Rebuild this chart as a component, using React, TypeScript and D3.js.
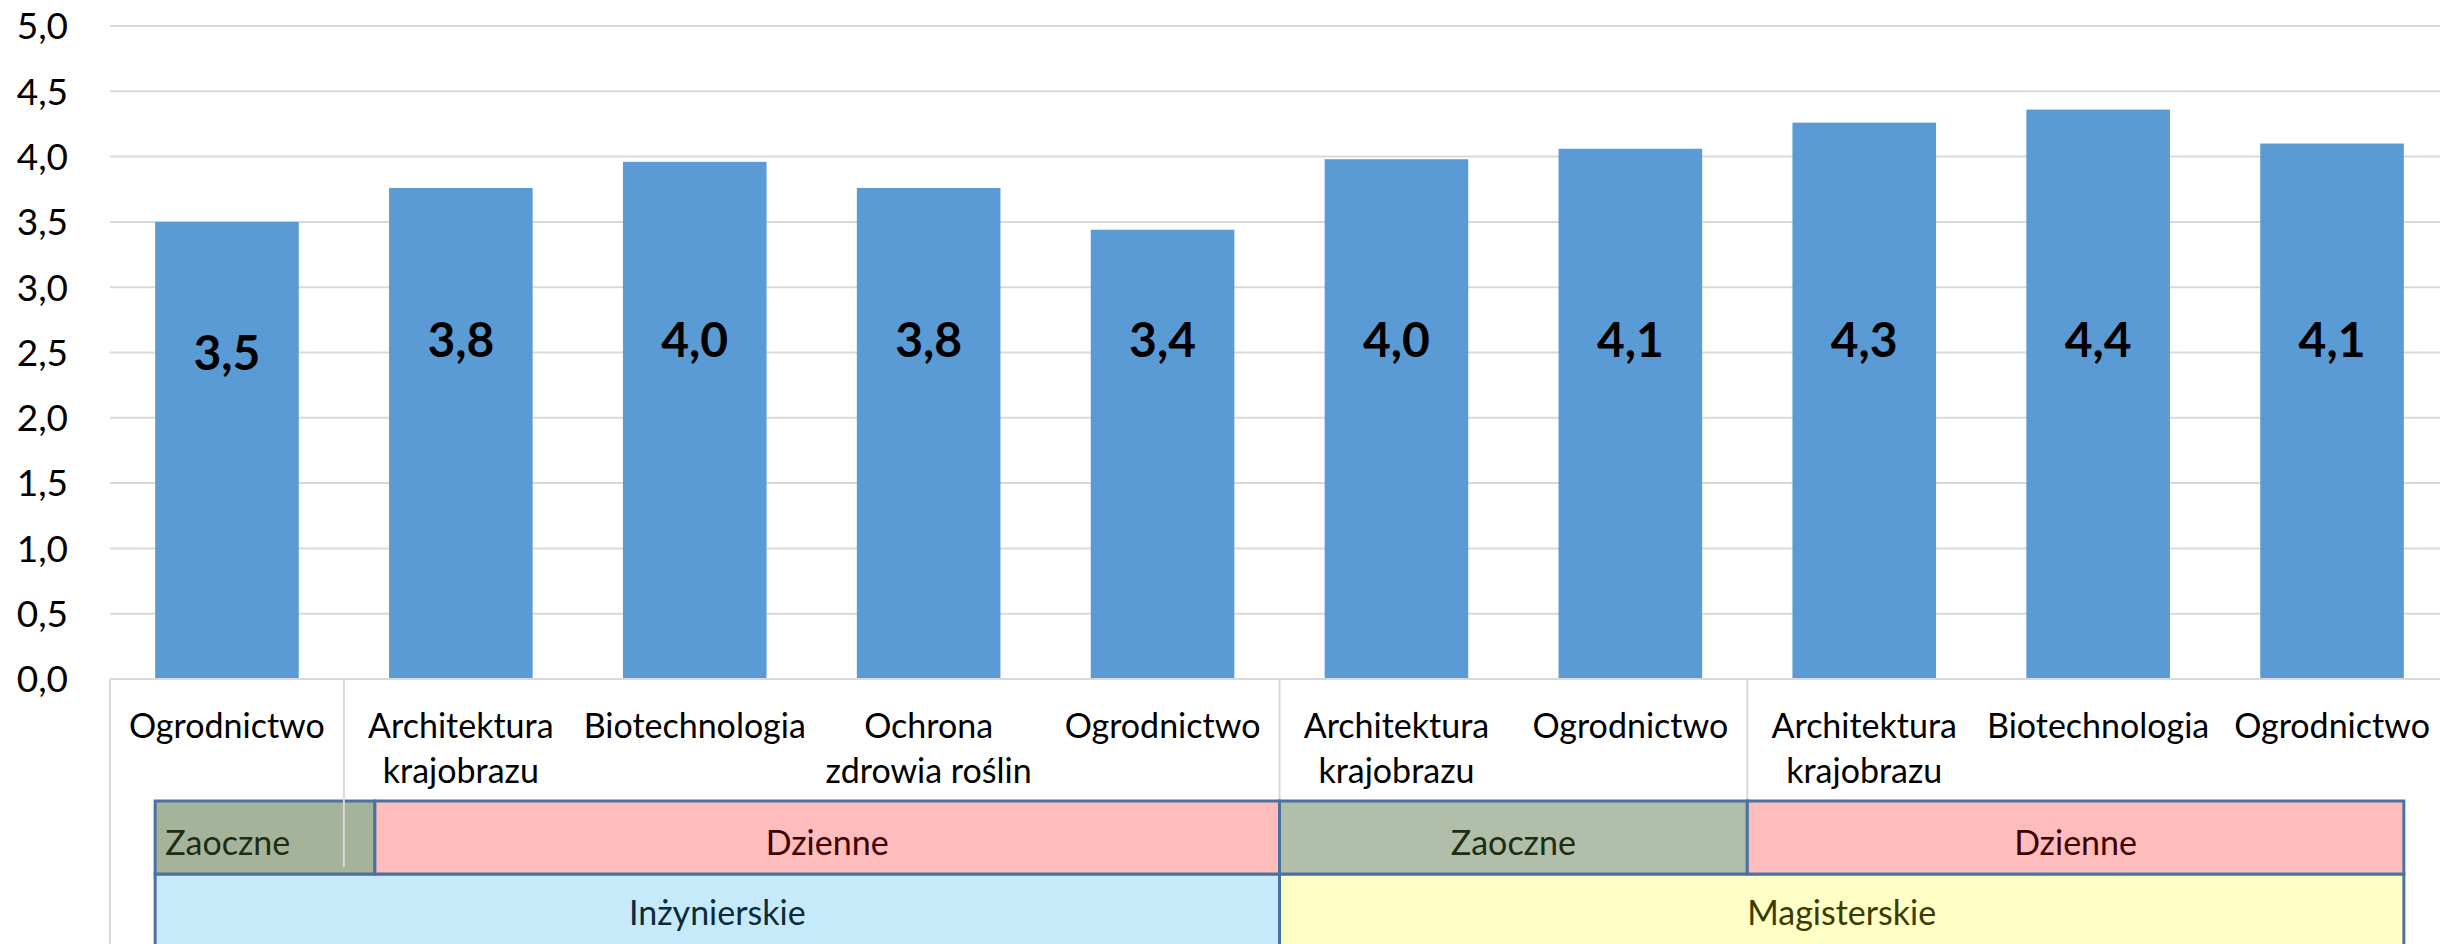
import React, { useEffect, useRef } from "react";
import * as d3 from "d3";

// mean grades per field of study, split by study mode and degree
const categories = [
  "Ogrodnictwo",
  "Architektura\nkrajobrazu",
  "Biotechnologia",
  "Ochrona\nzdrowia roślin",
  "Ogrodnictwo",
  "Architektura\nkrajobrazu",
  "Ogrodnictwo",
  "Architektura\nkrajobrazu",
  "Biotechnologia",
  "Ogrodnictwo",
];
const values = [3.5, 3.76, 3.96, 3.76, 3.44, 3.98, 4.06, 4.26, 4.36, 4.1];
const yTicks = [0, 0.5, 1, 1.5, 2, 2.5, 3, 3.5, 4, 4.5, 5];

// second level (study mode), in category columns
const modeGroups = [
  { label: "Zaoczne", from: 0, to: 1 },
  { label: "Dzienne", from: 1, to: 5 },
  { label: "Zaoczne", from: 5, to: 7 },
  { label: "Dzienne", from: 7, to: 10 },
];
// third level (degree)
const degreeGroups = [
  { label: "Inżynierskie", from: 0, to: 5 },
  { label: "Magisterskie", from: 5, to: 10 },
];

const modeFill = ["#a6b39b", "#febcbc", "#b1bea9", "#febcbc"];
const modeText = ["#1f2d12", "#3f0000", "#1f2d12", "#3f0000"];
const degreeFill = ["#c6eafa", "#ffffc6"];
const degreeText = ["#0b2a3a", "#3b3b00"];

const FONT = "Lato, Carlito, Calibri, sans-serif";

const App = () => {
  const ref = useRef<SVGSVGElement>(null);

  useEffect(() => {
    const width = 2440;
    const height = 944;
    const left = 110;
    const plotRight = 2449; // plot area runs a bit past the picture's edge
    const top = 26;
    const bottom = 679;

    const svg = d3.select(ref.current);
    svg.selectAll("*").remove();
    svg.attr("width", width).attr("height", height);

    const x = d3
      .scaleBand<number>()
      .domain(d3.range(values.length))
      .range([left, plotRight])
      .paddingInner(0.386)
      .paddingOuter(0.193);
    const y = d3.scaleLinear().domain([0, 5]).range([bottom, top]);

    const step = x.step();
    const bw = x.bandwidth();
    const n = values.length;
    // column units -> pixels, outer edges snap to the bars
    const pos = (u: number) =>
      u <= 0 ? x(0)! : u >= n ? x(n - 1)! + bw : left + u * step;

    // gridlines
    svg
      .append("g")
      .selectAll("line")
      .data(yTicks)
      .join("line")
      .attr("x1", left)
      .attr("x2", width)
      .attr("y1", (d) => y(d))
      .attr("y2", (d) => y(d))
      .attr("stroke", "#d9d9d9")
      .attr("stroke-width", 2);

    // y labels
    svg
      .append("g")
      .selectAll("text")
      .data(yTicks)
      .join("text")
      .attr("x", 68)
      .attr("y", (d) => y(d))
      .attr("dy", "0.36em")
      .attr("text-anchor", "end")
      .style("font-family", FONT)
      .style("font-size", "37px")
      .attr("fill", "#000")
      .text((d) => d.toFixed(1).replace(".", ","));

    // bars
    svg
      .append("g")
      .selectAll("rect")
      .data(values)
      .join("rect")
      .attr("x", (d, i) => x(i)!)
      .attr("width", bw)
      .attr("y", (d) => y(d))
      .attr("height", (d) => y(0) - y(d))
      .attr("fill", "#5b9bd5");

    // value labels (placed by hand in the original, roughly level)
    svg
      .append("g")
      .selectAll("text")
      .data(values)
      .join("text")
      .attr("x", (d, i) => x(i)! + bw / 2)
      .attr("y", (d, i) => (i === 0 ? y(2.5) : y(2.6)))
      .attr("dy", "0.36em")
      .attr("text-anchor", "middle")
      .style("font-family", FONT)
      .style("font-size", "48px")
      .style("font-weight", "bold")
      .attr("fill", "#000")
      .text((d) => d.toFixed(1).replace(".", ","));

    // axis lines
    svg
      .append("line")
      .attr("x1", left)
      .attr("x2", width)
      .attr("y1", bottom)
      .attr("y2", bottom)
      .attr("stroke", "#d9d9d9")
      .attr("stroke-width", 2);
    svg
      .append("line")
      .attr("x1", left)
      .attr("x2", left)
      .attr("y1", bottom)
      .attr("y2", height)
      .attr("stroke", "#d9d9d9")
      .attr("stroke-width", 2);

    // category labels
    const cat = svg
      .append("g")
      .selectAll("text")
      .data(categories)
      .join("text")
      .attr("text-anchor", "middle")
      .style("font-family", FONT)
      .style("font-size", "34px")
      .attr("fill", "#000");
    cat.each(function (d, i) {
      const t = d3.select(this);
      d.split("\n").forEach((line, k) => {
        t.append("tspan")
          .attr("x", x(i)! + bw / 2)
          .attr("y", 738 + k * 45)
          .text(line);
      });
    });

    const rowTop = 801;
    const rowMid = 874;
    const firstShift = 31; // first hand drawn box overshoots its column

    const modeX0 = (g: any, i: number) => (i === 1 ? pos(g.from) + firstShift : pos(g.from));
    const modeX1 = (g: any, i: number) => (i === 0 ? pos(g.to) + firstShift : pos(g.to));

    // separators between mode groups
    modeGroups.slice(1).forEach((g, k) => {
      const sx = pos(g.from);
      const edge = modeX0(g, k + 1);
      svg
        .append("line")
        .attr("x1", sx)
        .attr("x2", sx)
        .attr("y1", bottom)
        .attr("y2", Math.abs(edge - sx) < 5 ? rowTop : 867)
        .attr("stroke", "#d9d9d9")
        .attr("stroke-width", 2)
        .attr("class", Math.abs(edge - sx) < 5 ? "under" : "over");
    });

    // degree row
    degreeGroups.forEach((g, i) => {
      const x0 = pos(g.from);
      const x1 = pos(g.to);
      svg
        .append("rect")
        .attr("x", x0)
        .attr("y", rowMid)
        .attr("width", x1 - x0)
        .attr("height", 100)
        .attr("fill", degreeFill[i])
        .attr("stroke", "#4a72a0")
        .attr("stroke-width", 3);
      svg
        .append("text")
        .attr("x", (x0 + x1) / 2)
        .attr("y", 925)
        .attr("text-anchor", "middle")
        .style("font-family", FONT)
        .style("font-size", "34px")
        .attr("fill", degreeText[i])
        .text(g.label);
    });

    // mode row
    modeGroups.forEach((g, i) => {
      const x0 = modeX0(g, i);
      const x1 = modeX1(g, i);
      svg
        .append("rect")
        .attr("x", x0)
        .attr("y", rowTop)
        .attr("width", x1 - x0)
        .attr("height", rowMid - rowTop)
        .attr("fill", modeFill[i])
        .attr("stroke", "#4a72a0")
        .attr("stroke-width", 3);
      const narrow = x1 - x0 < 300;
      svg
        .append("text")
        .attr("x", narrow ? x0 + 10 : (x0 + x1) / 2)
        .attr("y", 855)
        .attr("text-anchor", narrow ? "start" : "middle")
        .style("font-family", FONT)
        .style("font-size", "34px")
        .attr("fill", modeText[i])
        .text(g.label);
    });

    // the separator that shows through the first box
    svg.selectAll("line.over").raise();
  }, []);

  return (
    <div style={{ position: "absolute", left: 0, top: 0 }}>
      <svg ref={ref} style={{ display: "block", background: "#fff" }}></svg>
    </div>
  );
};

export default App;
